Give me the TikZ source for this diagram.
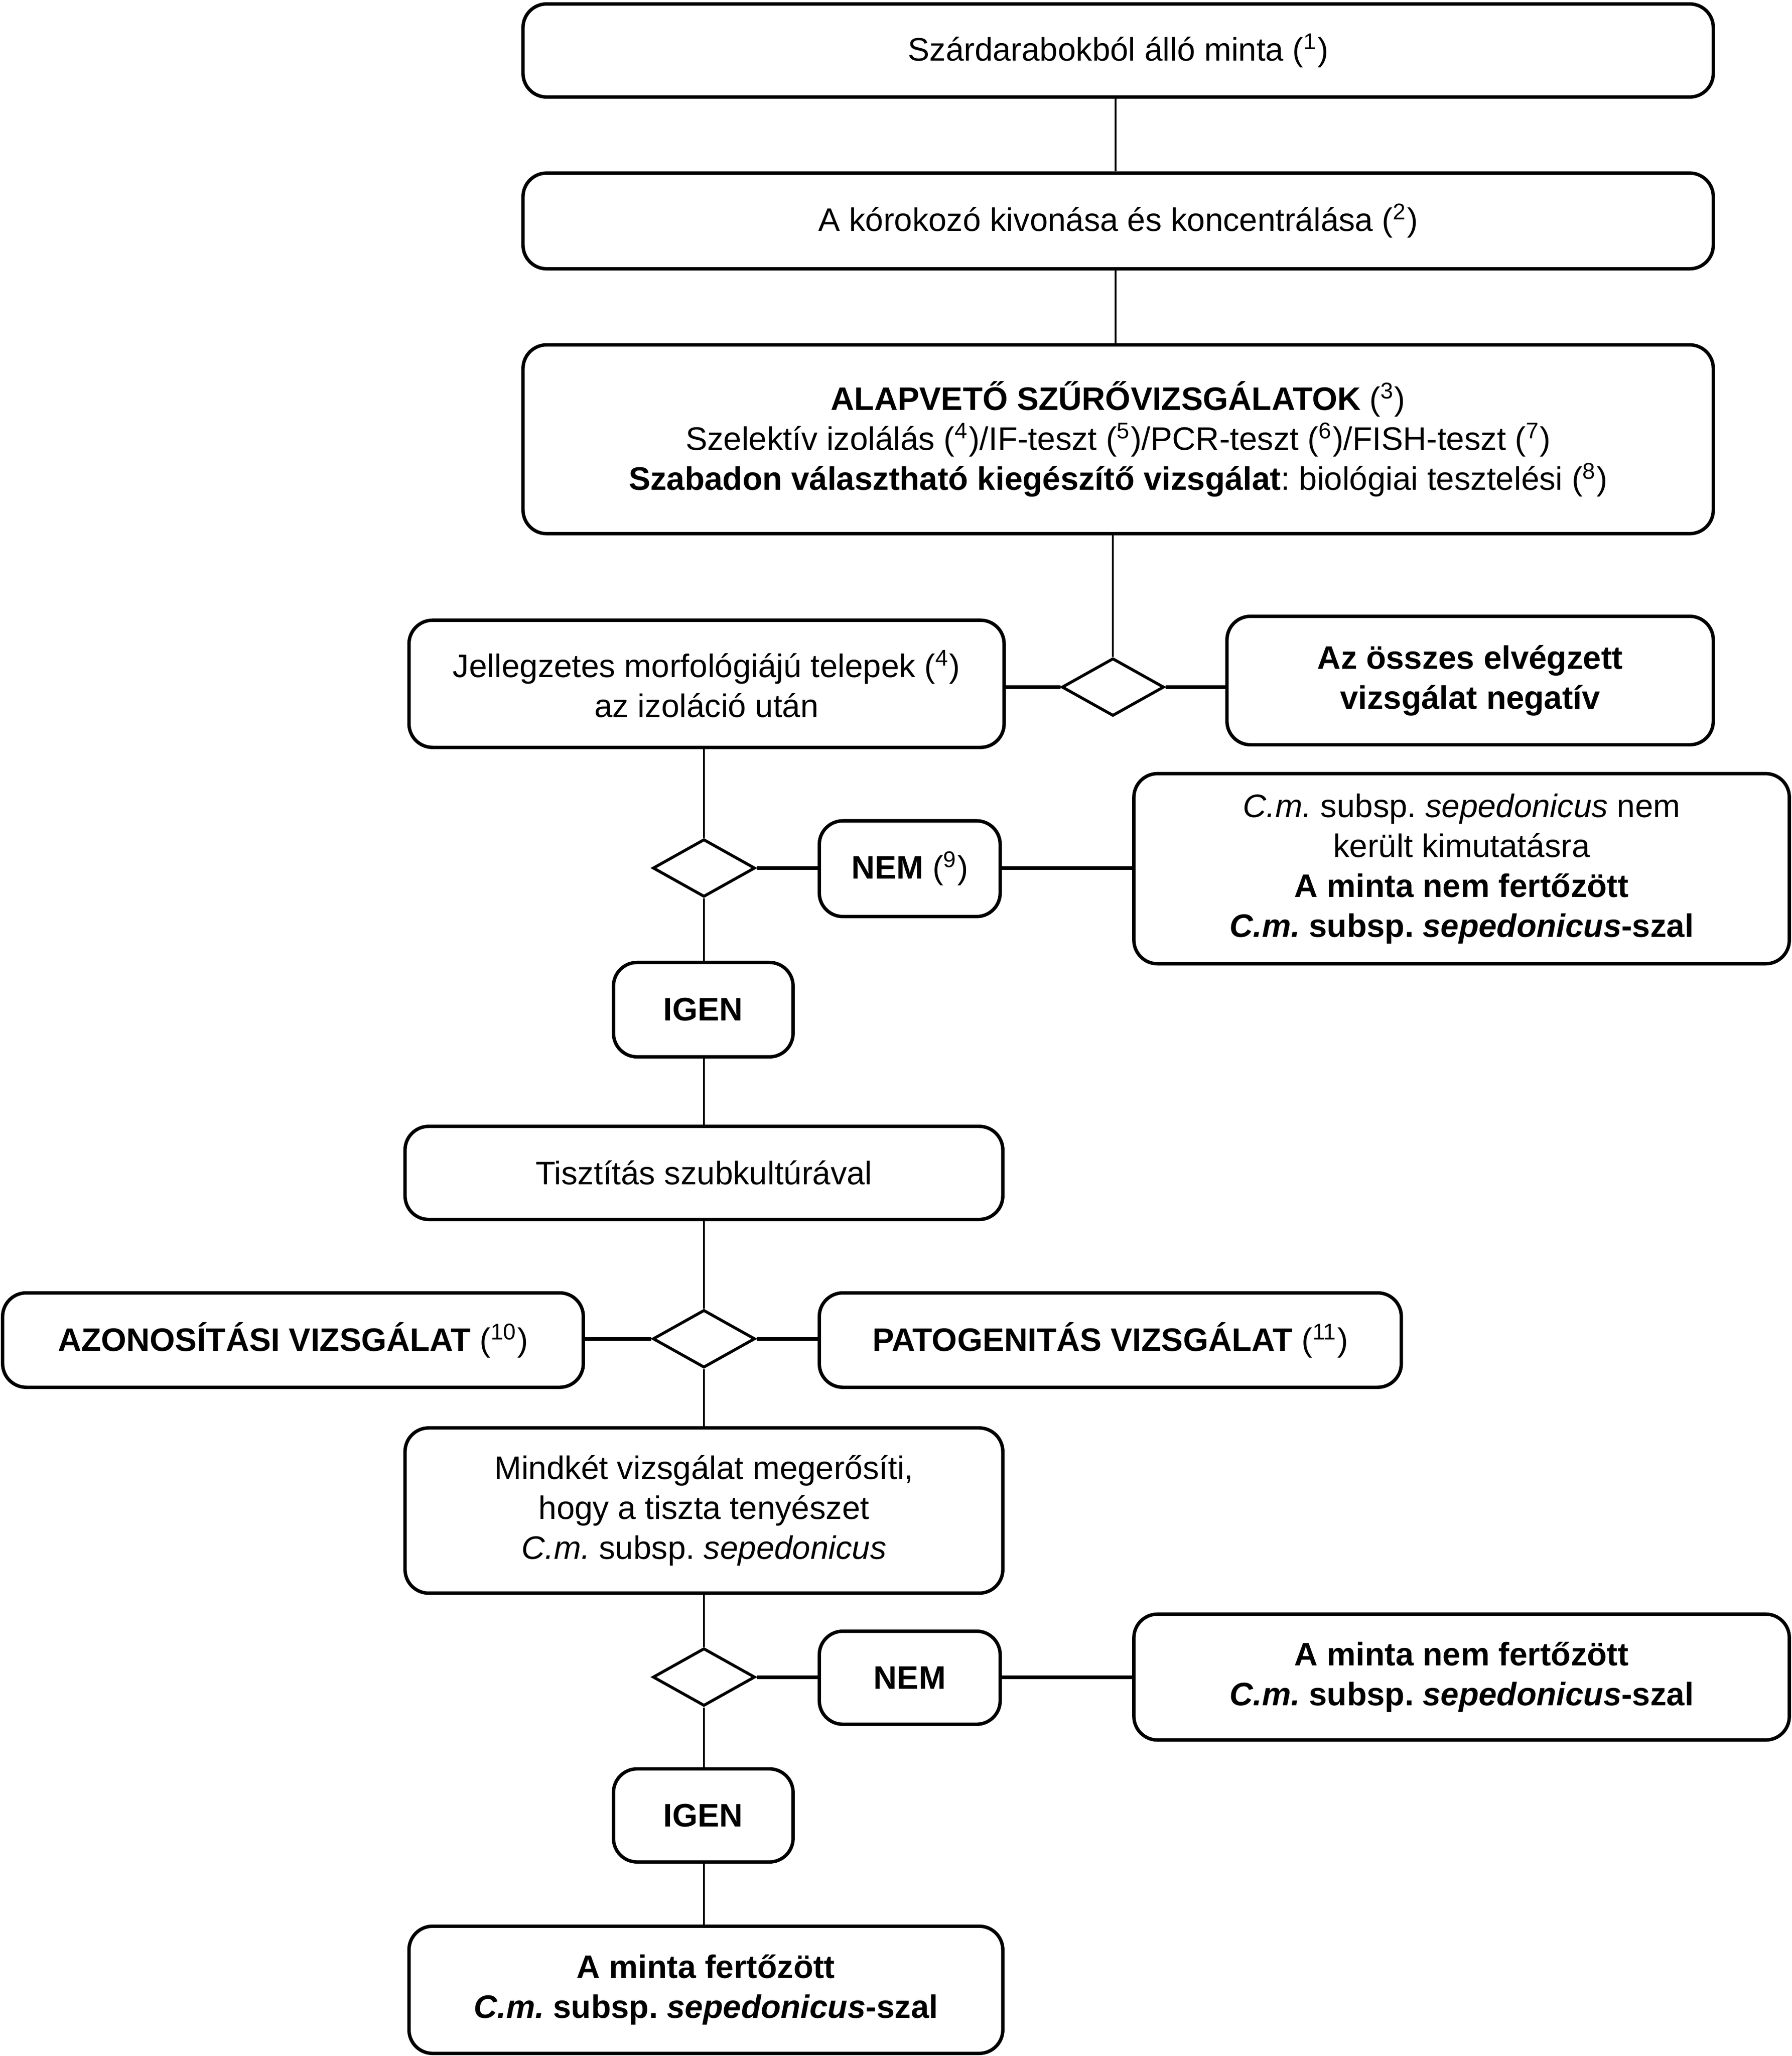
\documentclass[tikz,border=0pt]{standalone}
\usepackage{fontspec}
\setmainfont{Liberation Sans}
\usetikzlibrary{shapes.geometric}
\frenchspacing
\tikzset{
  box/.style={draw, line width=1.3pt, rounded corners=9pt, align=center, inner sep=0pt, fill=white},
  dia/.style={draw, diamond, line width=1.1pt, inner sep=0pt, minimum width=39pt, minimum height=22pt, fill=white},
  vline/.style={line width=0.8pt},
  hline/.style={line width=1.4pt},
}
\newcommand{\sref}[1]{(\textsuperscript{#1})}
\begin{document}
\begin{tikzpicture}[x=0.5pt,y=-0.5pt,font=\fontsize{12.4}{15.25}\selectfont]
\useasboundingbox (0,0) rectangle (1367,1568);
% main column
\node[box, minimum width=454pt, minimum height=35.5pt] (top) at (853,38.5) {Szárdarabokból álló minta \sref{1}};
\node[box, minimum width=454pt, minimum height=36.5pt] (kiv) at (853,168.5) {A kórokozó kivonása és koncentrálása \sref{2}};
\node[box, minimum width=454pt, minimum height=72pt] (alap) at (853,335) {\textbf{ALAPVETŐ SZŰRŐVIZSGÁLATOK} \sref{3}\\Szelektív izolálás \sref{4}/IF-teszt \sref{5}/PCR-teszt \sref{6}/FISH-teszt \sref{7}\\\textbf{Szabadon választható kiegészítő vizsgálat}: biológiai tesztelési \sref{8}};
\node[dia] (d1) at (849,524) {};
\node[box, minimum width=227pt, minimum height=48.5pt] (jell) at (539,521.5) {Jellegzetes morfológiájú telepek \sref{4}\\az izoláció után};
\node[box, minimum width=185.5pt, minimum height=49pt] (neg) at (1121.5,519) {\textbf{Az összes elvégzett}\\\textbf{vizsgálat negatív}};
% second decision
\node[dia] (d2) at (537,662) {};
\node[box, minimum width=69pt, minimum height=36.5pt] (nem1) at (694,662.5) {\textbf{NEM} \sref{9}};
\node[box, minimum width=250pt, minimum height=72.5pt] (cm1) at (1115,662.5) {\textit{C.m.} subsp. \textit{sepedonicus} nem\\került kimutatásra\\\textbf{A minta nem fertőzött}\\\textbf{\textit{C.m.} subsp. \textit{sepedonicus}-szal}};
\node[box, minimum width=68.5pt, minimum height=36pt] (igen1) at (536.5,770) {\textbf{IGEN}};
\node[box, minimum width=228pt, minimum height=35.5pt] (tisz) at (537,894.5) {Tisztítás szubkultúrával};
% third decision
\node[dia] (d3) at (537,1021) {};
\node[box, minimum width=221.5pt, minimum height=36pt] (azon) at (223.5,1022) {\textbf{AZONOSÍTÁSI VIZSGÁLAT} \sref{10}};
\node[box, minimum width=222pt, minimum height=36pt] (pato) at (847,1022) {\textbf{PATOGENITÁS VIZSGÁLAT} \sref{11}};
\node[box, minimum width=228pt, minimum height=63pt] (mind) at (537,1152) {Mindkét vizsgálat megerősíti,\\hogy a tiszta tenyészet\\\textit{C.m.} subsp. \textit{sepedonicus}};
% fourth decision
\node[dia] (d4) at (537,1279) {};
\node[box, minimum width=69pt, minimum height=35.5pt] (nem2) at (694,1279.5) {\textbf{NEM}};
\node[box, minimum width=250pt, minimum height=48pt] (neg2) at (1115,1279) {\textbf{A minta nem fertőzött}\\\textbf{\textit{C.m.} subsp. \textit{sepedonicus}-szal}};
\node[box, minimum width=68.5pt, minimum height=35.5pt] (igen2) at (536.5,1384.5) {\textbf{IGEN}};
\node[box, minimum width=226.5pt, minimum height=48.5pt] (fin) at (538.5,1517.5) {\textbf{A minta fertőzött}\\\textbf{\textit{C.m.} subsp. \textit{sepedonicus}-szal}};
% connectors
\draw[vline] (top.south -| 851,0) -- (kiv.north -| 851,0);
\draw[vline] (kiv.south -| 851,0) -- (alap.north -| 851,0);
\draw[vline] (alap.south -| d1.north) -- (d1.north);
\draw[hline] (jell.east |- d1.west) -- (d1.west);
\draw[hline] (d1.east) -- (neg.west |- d1.east);
\draw[vline] (jell.south -| d2.north) -- (d2.north);
\draw[hline] (d2.east) -- (nem1.west |- d2.east);
\draw[hline] (nem1.east |- d2.east) -- (cm1.west |- d2.east);
\draw[vline] (d2.south) -- (igen1.north -| d2.south);
\draw[vline] (igen1.south -| d2.south) -- (tisz.north -| d2.south);
\draw[vline] (tisz.south -| d3.north) -- (d3.north);
\draw[hline] (azon.east |- d3.west) -- (d3.west);
\draw[hline] (d3.east) -- (pato.west |- d3.east);
\draw[vline] (d3.south) -- (mind.north -| d3.south);
\draw[vline] (mind.south -| d4.north) -- (d4.north);
\draw[hline] (d4.east) -- (nem2.west |- d4.east);
\draw[hline] (nem2.east |- d4.east) -- (neg2.west |- d4.east);
\draw[vline] (d4.south) -- (igen2.north -| d4.south);
\draw[vline] (igen2.south -| d4.south) -- (fin.north -| d4.south);
\end{tikzpicture}
\end{document}
